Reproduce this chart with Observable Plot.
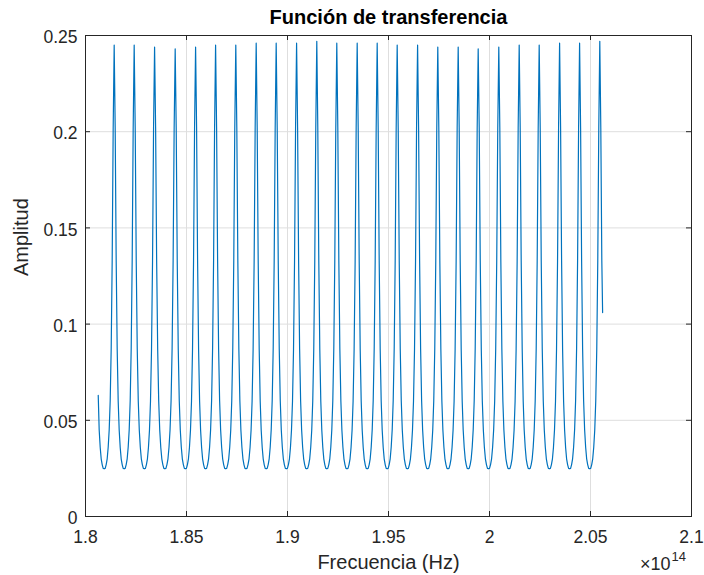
<!DOCTYPE html>
<html>
<head>
<meta charset="utf-8">
<script src="https://cdn.jsdelivr.net/npm/d3@7"></script>
<script src="https://cdn.jsdelivr.net/npm/@observablehq/plot@0.6"></script>
<style>
  html, body { margin: 0; padding: 0; background: #fff; }
</style>
</head>
<body>
<div id="chart"></div>
<script>
// Frequencies are expressed in units of 10^14 Hz (see the ×10^14 note on the axis).
const xTicks = [1.8, 1.85, 1.9, 1.95, 2, 2.05, 2.1];
const yTicks = [0, 0.05, 0.1, 0.15, 0.2, 0.25];

// Transmission peaks: centre frequency and peak amplitude of each resonance
const peakFreq = [1.8142, 1.8241, 1.8342, 1.8444, 1.8545, 1.8644, 1.8744, 1.8845, 1.8944,
                  1.9045, 1.9145, 1.9244, 1.9345, 1.9444, 1.9543, 1.9644, 1.9744, 1.9845,
                  1.9944, 2.0046, 2.0147, 2.0246, 2.0347, 2.0446, 2.0546];
const peakAmp  = [0.245, 0.245, 0.244, 0.243, 0.244, 0.245, 0.245, 0.246, 0.246,
                  0.246, 0.247, 0.246, 0.246, 0.246, 0.245, 0.245, 0.244, 0.244,
                  0.243, 0.244, 0.245, 0.245, 0.246, 0.246, 0.247];

// Shape of one free spectral range: amplitude at fractions of the way from one peak to the next
const lobeFrac = [0.05, 0.10, 0.15, 0.20, 0.25, 0.30, 0.35, 0.40, 0.45, 0.50,
                  0.55, 0.60, 0.65, 0.70, 0.75, 0.80, 0.85, 0.90, 0.95];
const lobeAmp  = [0.202, 0.133, 0.087, 0.060, 0.045, 0.036, 0.030, 0.027, 0.025, 0.0248,
                  0.025, 0.027, 0.030, 0.036, 0.045, 0.060, 0.087, 0.133, 0.202];

// First and last samples of the sweep
const sweepStart = {f: 1.8063, a: 0.063};
const sweepEnd   = {f: 2.0560, a: 0.106};

// Assemble the sampled transfer function
const samples = [sweepStart];
const firstStep = peakFreq[1] - peakFreq[0];
lobeFrac.forEach((t, j) => {
  const f = peakFreq[0] - (1 - t) * firstStep;
  if (f > sweepStart.f) samples.push({f, a: lobeAmp[j]});
});
peakFreq.forEach((p, i) => {
  samples.push({f: p, a: peakAmp[i]});
  if (i < peakFreq.length - 1) {
    const step = peakFreq[i + 1] - p;
    lobeFrac.forEach((t, j) => samples.push({f: p + t * step, a: lobeAmp[j]}));
  }
});
const last = peakFreq.length - 1;
const lastStep = peakFreq[last] - peakFreq[last - 1];
lobeFrac.forEach((t, j) => {
  const f = peakFreq[last] + t * lastStep;
  if (f < sweepEnd.f) samples.push({f, a: lobeAmp[j]});
});
samples.push(sweepEnd);

const W = 704, H = 575;
const mTop = 35, mBottom = 59, mLeft = 85, mRight = 13;
const frameW = W - mLeft - mRight, frameH = H - mTop - mBottom;
const ink = "#262626";
const tickLen = 5;
const fmt = d => String(d);

const chart = Plot.plot({
  width: W,
  height: H,
  marginTop: mTop,
  marginBottom: mBottom,
  marginLeft: mLeft,
  marginRight: mRight,
  style: {
    fontFamily: "'Liberation Sans', Arial, Helvetica, sans-serif",
    color: ink,
    background: "#fff"
  },
  x: {domain: [1.8, 2.1], label: null},
  y: {domain: [0, 0.25], label: null},
  marks: [
    Plot.gridX(xTicks, {stroke: "#dedede", strokeOpacity: 1}),
    Plot.gridY(yTicks, {stroke: "#dedede", strokeOpacity: 1}),
    Plot.line(samples, {x: "f", y: "a", stroke: "#0072BD", strokeWidth: 1.2}),
    Plot.frame({stroke: ink, strokeWidth: 1}),
    // inward ticks on all four sides
    Plot.tickX(xTicks, {x: d => d, insetTop: frameH - tickLen, stroke: ink}),
    Plot.tickX(xTicks, {x: d => d, insetBottom: frameH - tickLen, stroke: ink}),
    Plot.tickY(yTicks, {y: d => d, insetRight: frameW - tickLen, stroke: ink}),
    Plot.tickY(yTicks, {y: d => d, insetLeft: frameW - tickLen, stroke: ink}),
    Plot.axisX(xTicks, {tickSize: 0, tickPadding: 14, fontSize: 17.5, tickFormat: fmt, label: null, fill: ink}),
    Plot.axisY(yTicks, {tickSize: 0, tickPadding: 8, fontSize: 17.5, tickFormat: fmt, label: null, fill: ink, dy: 2}),
    Plot.text(["Función de transferencia"], {frameAnchor: "top", dy: -18, lineAnchor: "middle",
      fontWeight: "bold", fontSize: 20, fill: "#000"}),
    Plot.text(["Frecuencia (Hz)"], {frameAnchor: "bottom", dy: 46, lineAnchor: "middle", fontSize: 20, fill: ink}),
    Plot.text(["Amplitud"], {frameAnchor: "left", dx: -63.5, rotate: -90, lineAnchor: "middle", fontSize: 20, fill: ink}),
    Plot.text(["×10"], {frameAnchor: "bottom-right", dx: -21, dy: 48, textAnchor: "end", lineAnchor: "middle", fontSize: 18, fill: ink}),
    Plot.text(["14"], {frameAnchor: "bottom-right", dx: -20, dy: 40, textAnchor: "start", lineAnchor: "middle", fontSize: 13, fill: ink})
  ]
});
document.getElementById("chart").appendChild(chart);
</script>
</body>
</html>
